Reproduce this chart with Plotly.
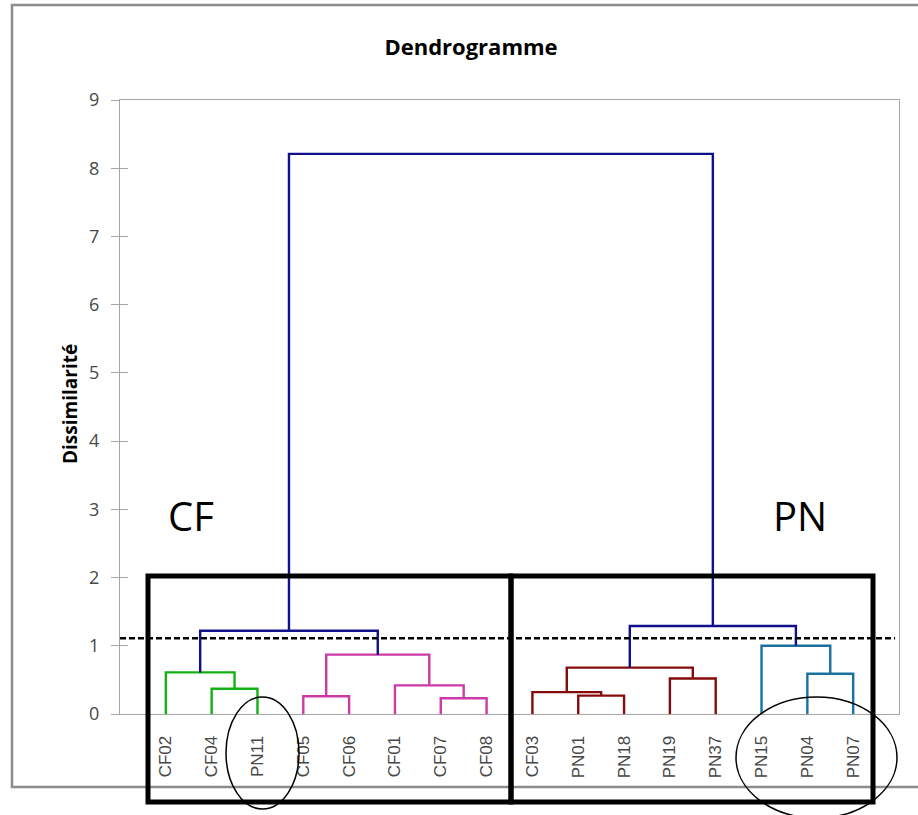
import plotly.graph_objects as go

# ---------------- data ----------------
leaves = ["CF02", "CF04", "PN11", "CF05", "CF06", "CF01", "CF07", "CF08",
          "CF03", "PN01", "PN18", "PN19", "PN37", "PN15", "PN04", "PN07"]

# merges: left child, right child, height, colour group (A<k> = k-th merge)
merge_left = ["CF04", "CF02", "CF05", "CF07", "CF01", "A2", "A1",
              "PN01", "CF03", "PN19", "A8", "PN04", "PN15", "A10", "A6"]
merge_right = ["PN11", "A0", "CF06", "CF08", "A3", "A4", "A5",
               "PN18", "A7", "PN37", "A9", "PN07", "A11", "A12", "A13"]
merge_height = [0.37, 0.61, 0.26, 0.23, 0.42, 0.87, 1.22,
                0.27, 0.32, 0.52, 0.68, 0.59, 1.00, 1.29, 8.21]
merge_group = ["g", "g", "m", "m", "m", "m", "n",
               "r", "r", "r", "r", "b", "b", "n", "n"]

cut_height = 1.11
group_colors = {"g": "#14b014", "m": "#cc3aa8", "r": "#850a0a",
                "b": "#1a70a0", "n": "#10108a"}

# ---------------- build dendrogram traces ----------------
pos = {name: float(i) for i, name in enumerate(leaves)}
hgt = {name: 0.0 for name in leaves}

fig = go.Figure()
for k, (a, b, h, grp) in enumerate(zip(merge_left, merge_right, merge_height, merge_group)):
    xa, xb = pos[a], pos[b]
    fig.add_trace(go.Scatter(
        x=[xa, xa, xb, xb], y=[hgt[a], h, h, hgt[b]],
        mode="lines", line=dict(color=group_colors[grp], width=2.4),
        hoverinfo="skip", showlegend=False))
    pos[f"A{k}"] = (xa + xb) / 2
    hgt[f"A{k}"] = h

# ---------------- layout helpers (pixel -> paper) ----------------
W, H = 918, 815
L, R, T, B = 120, 19, 100, 101
PW, PH = W - L - R, H - T - B


def fx(px):
    return (px - L) / PW


def fy(py):
    return (H - B - py) / PH


axis_gray = "#a6a6a6"
text_gray = "#474747"

shapes = []
# dashed cut line
shapes.append(dict(type="line", xref="paper", yref="y", x0=0, x1=0.995,
                   y0=cut_height, y1=cut_height,
                   line=dict(color="black", width=2.4, dash="6px,3px"), layer="above"))
# outer chart frame
shapes.append(dict(type="rect", xref="paper", yref="paper",
                   x0=fx(12), x1=fx(940), y0=fy(787), y1=fy(5),
                   line=dict(color="#8c8c8c", width=2.5), layer="below"))
# thick group boxes
shapes.append(dict(type="rect", xref="paper", yref="paper",
                   x0=fx(148), x1=fx(511), y0=fy(802), y1=fy(576),
                   line=dict(color="black", width=5), layer="above"))
shapes.append(dict(type="rect", xref="paper", yref="paper",
                   x0=fx(511), x1=fx(873), y0=fy(802), y1=fy(576),
                   line=dict(color="black", width=5), layer="above"))
# ellipses
shapes.append(dict(type="circle", xref="paper", yref="paper",
                   x0=fx(226), x1=fx(299), y0=fy(809), y1=fy(697),
                   line=dict(color="black", width=1.5), layer="above"))
shapes.append(dict(type="circle", xref="paper", yref="paper",
                   x0=fx(736), x1=fx(897), y0=fy(818), y1=fy(697),
                   line=dict(color="black", width=1.5), layer="above"))

annotations = [
    dict(text="CF", xref="paper", yref="paper", x=fx(191), y=fy(515),
         showarrow=False, font=dict(family="Open Sans", size=40, color="black"),
         xanchor="center", yanchor="middle"),
    dict(text="PN", xref="paper", yref="paper", x=fx(800), y=fy(515),
         showarrow=False, font=dict(family="Open Sans", size=40, color="black"),
         xanchor="center", yanchor="middle"),
    dict(text="<b>Dissimilarité</b>", xref="paper", yref="paper", x=fx(70), y=fy(404),
         showarrow=False, textangle=-90,
         font=dict(family="Open Sans", size=19, color="black"),
         xanchor="center", yanchor="middle"),
]

fig.update_layout(
    width=W, height=H,
    margin=dict(l=L, r=R, t=T, b=B),
    paper_bgcolor="white", plot_bgcolor="white",
    title=dict(text="<b>Dendrogramme</b>", x=471 / W, y=1 - 47 / H,
               xref="container", yref="container", xanchor="center", yanchor="middle",
               font=dict(family="Open Sans", size=22, color="black")),
    xaxis=dict(range=[-1, 16], tickmode="array",
               tickvals=list(range(len(leaves))), ticktext=leaves,
               tickangle=-90, showgrid=False, zeroline=False,
               showline=True, linecolor=axis_gray, linewidth=1, mirror=True,
               ticks="", ticklabelstandoff=14,
               tickfont=dict(family="Liberation Sans", size=17, color=text_gray)),
    yaxis=dict(range=[0, 9], dtick=1, tick0=0, showgrid=False, zeroline=False,
               showline=True, linecolor=axis_gray, linewidth=1, mirror=True,
               ticks="outside", ticklen=8, tickcolor=axis_gray, ticklabelstandoff=8,
               tickfont=dict(family="Open Sans", size=18, color=text_gray)),
    yaxis2=dict(range=[0, 9], dtick=1, tick0=0, overlaying="y", side="left",
                showgrid=False, zeroline=False, showline=False,
                ticks="inside", ticklen=8, tickcolor=axis_gray, showticklabels=False),
    shapes=shapes,
    annotations=annotations,
)
# dummy trace to activate yaxis2
fig.add_trace(go.Scatter(x=[None], y=[None], yaxis="y2", showlegend=False,
                         hoverinfo="skip"))

fig.write_html("out.html")
